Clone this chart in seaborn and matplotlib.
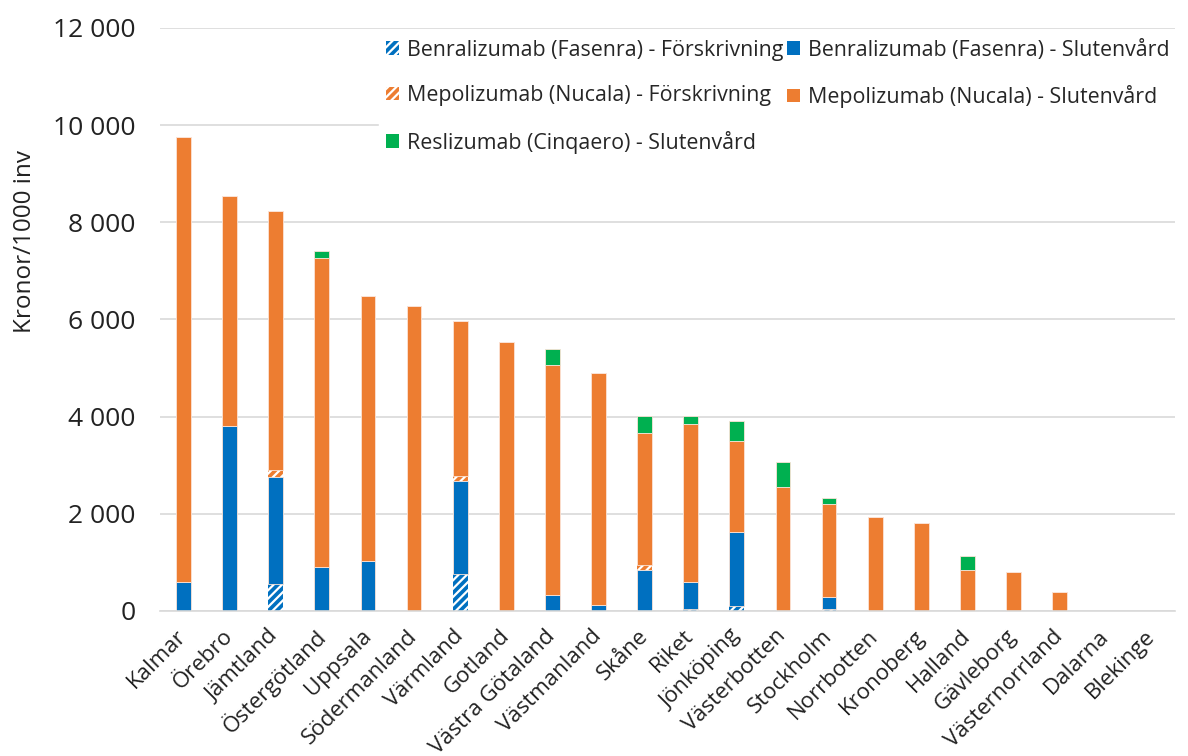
import matplotlib
matplotlib.use("Agg")
import matplotlib.pyplot as plt
import matplotlib.ticker as mticker
from matplotlib.patches import Patch
import numpy as np
import pandas as pd
import seaborn as sns

categories = ["Kalmar", "Örebro", "Jämtland", "Östergötland", "Uppsala", "Södermanland",
              "Värmland", "Gotland", "Västra Götaland", "Västmanland", "Skåne", "Riket",
              "Jönköping", "Västerbotten", "Stockholm", "Norrbotten", "Kronoberg", "Halland",
              "Gävleborg", "Västernorrland", "Dalarna", "Blekinge"]

benra_forskr = [0, 0, 550, 0, 0, 0, 750, 0, 0, 0, 0, 40, 110, 0, 30, 0, 0, 0, 0, 0, 0, 0]
benra_sluten = [600, 3800, 2200, 900, 1030, 0, 1930, 0, 330, 120, 850, 560, 1520, 0, 250, 0, 0, 0, 0, 0, 0, 0]
mepo_forskr = [0, 0, 150, 0, 0, 0, 100, 0, 0, 0, 100, 0, 0, 0, 0, 0, 0, 0, 0, 0, 0, 0]
mepo_sluten = [9150, 4750, 5330, 6360, 5450, 6280, 3190, 5540, 4730, 4780, 2710, 3240, 1860, 2540, 1930, 1930, 1800, 845, 810, 380, 0, 0]
resli_sluten = [0, 0, 0, 140, 0, 0, 0, 0, 340, 0, 360, 180, 420, 530, 110, 0, 0, 280, 0, 0, 0, 0]

series_names = ["Benralizumab (Fasenra) - Förskrivning",
                "Benralizumab (Fasenra) - Slutenvård",
                "Mepolizumab (Nucala) - Förskrivning",
                "Mepolizumab (Nucala) - Slutenvård",
                "Reslizumab (Cinqaero) - Slutenvård"]
series_values = [benra_forskr, benra_sluten, mepo_forskr, mepo_sluten, resli_sluten]

BLUE = "#0070C0"
ORANGE = "#ED7D31"
GREEN = "#00B050"
colors = [BLUE, BLUE, ORANGE, ORANGE, GREEN]
hatches = ["////", None, "////", None, None]

sns.set_theme(style="white")
plt.rcParams["font.family"] = ["Open Sans", "DejaVu Sans"]
plt.rcParams["hatch.linewidth"] = 1.6

fig = plt.figure(figsize=(11.88, 7.56), dpi=100)
ax = fig.add_axes([0.135, 0.192, 0.854, 0.771])

bottom = np.zeros(len(categories))
for name, vals, col, h in zip(series_names, series_values, colors, hatches):
    df = pd.DataFrame({"region": categories, "value": vals})
    if h:
        sns.barplot(data=df, x="region", y="value", order=categories, color=col,
                    saturation=1, width=0.32, bottom=bottom, hatch=h,
                    edgecolor="white", linewidth=0, ax=ax, errorbar=None)
    else:
        sns.barplot(data=df, x="region", y="value", order=categories, color=col,
                    saturation=1, width=0.32, bottom=bottom,
                    edgecolor="#FBE3D6", linewidth=0.6, ax=ax, errorbar=None)
    bottom = bottom + np.array(vals, dtype=float)

ax.set_ylim(0, 12000)
ax.set_xlim(-0.5, len(categories) - 0.5)
ax.yaxis.set_major_locator(mticker.MultipleLocator(2000))
ax.yaxis.set_major_formatter(mticker.FuncFormatter(lambda v, p: f"{int(v):,}".replace(",", " ")))
ax.grid(axis="y", color="#D9D9D9", linewidth=1.2)
ax.set_axisbelow(True)
for s in ["top", "right", "left"]:
    ax.spines[s].set_visible(False)
ax.spines["bottom"].set_color("#D9D9D9")
ax.spines["bottom"].set_linewidth(1.2)

ax.tick_params(axis="y", labelsize=19, colors="#222222", length=0, pad=18)
ax.tick_params(axis="x", labelsize=16, colors="#222222", length=0, pad=16)
plt.setp(ax.get_xticklabels(), rotation=45, ha="right", va="center", rotation_mode="anchor")
ax.set_xlabel("")
ax.set_ylabel("Kronor/1000 inv", fontsize=17.5, color="#222222")
ax.yaxis.set_label_coords(-0.122, 0.633)

handles = [Patch(facecolor=c, hatch=h, edgecolor="white" if h else c, linewidth=0)
           for c, h in zip(colors, hatches)]
order = [0, 2, 4, 1, 3]
leg = ax.legend([handles[i] for i in order], [series_names[i] for i in order],
                ncol=2, loc="upper left", bbox_to_anchor=(0.215, 0.993),
                frameon=True, fontsize=15.4, handlelength=0.6, handleheight=0.6,
                handletextpad=0.4, columnspacing=0.15, labelspacing=1.15,
                borderaxespad=0, borderpad=0.35)
leg.get_frame().set_facecolor("white")
leg.get_frame().set_edgecolor("white")
leg.get_frame().set_alpha(1)
leg.get_frame().set_boxstyle("square", pad=0)

fig.savefig("out.png", dpi=100)
